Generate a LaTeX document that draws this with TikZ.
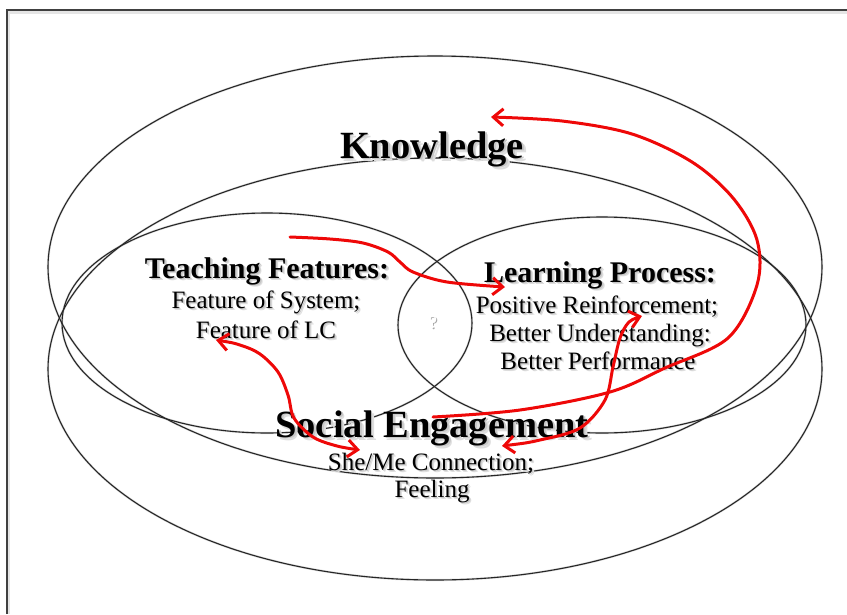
\documentclass[tikz,border=0pt]{standalone}
\usepackage{fontspec}
\setmainfont{Liberation Serif}
\usetikzlibrary{arrows.meta}
\definecolor{arrowred}{RGB}{238,8,8}
% text with a soft grey drop shadow (two light layers for a blurred look)
\newcommand\shadowed[1]{%
  \makebox[0pt][l]{\kern0.09em\raisebox{-0.09em}{\textcolor{black!13}{#1}}}%
  \makebox[0pt][l]{\kern0.05em\raisebox{-0.05em}{\textcolor{black!22}{#1}}}#1}
\begin{document}
\begin{tikzpicture}[x=1pt,y=-1pt,
  ring/.style={draw=black!85, line width=1.1pt},
  ringshade/.style={draw=black!14, line width=2.2pt},
  title/.style={anchor=base, inner sep=0pt, font=\fontsize{38.5}{40}\selectfont\bfseries},
  subtitle/.style={anchor=base, inner sep=0pt, font=\fontsize{30}{32}\selectfont\bfseries},
  item/.style={anchor=base, inner sep=0pt, font=\fontsize{25}{27}\selectfont},
  link/.style={draw=arrowred, line width=3pt, line cap=round, line join=round},
  barb/.tip={Straight Barb[length=10pt,width=17pt]}]
\useasboundingbox (0,0) rectangle (847,614);
% page frame
\draw[draw=black!10, line width=3pt] (8,614) -- (8,12) -- (847,12);
\draw[draw=black!75, line width=1.2pt] (7,614) -- (7,10) -- (847,10);

% centres of the four regions
\coordinate (knowC) at (435,267);
\coordinate (socC) at (435,369);
\coordinate (teachC) at (267,323);
\coordinate (learnC) at (602,325);

% soft shadows of the ellipses
\begin{scope}[shift={(1.2,1.8)}]
\draw[ringshade] (knowC) ellipse [x radius=387, y radius=211];
\draw[ringshade] (socC) ellipse [x radius=387, y radius=211];
\draw[ringshade] (teachC) ellipse [x radius=205, y radius=110];
\draw[ringshade] (learnC) ellipse [x radius=204, y radius=108];
\end{scope}
% the ellipses
\draw[ring] (knowC) ellipse [x radius=387, y radius=211];
\draw[ring] (socC) ellipse [x radius=387, y radius=211];
\draw[ring] (teachC) ellipse [x radius=205, y radius=110];
\draw[ring] (learnC) ellipse [x radius=204, y radius=108];

% labels
\node[title] (know) at (432,158) {\shadowed{Knowledge}};
\node[subtitle] (teach) at (267,278) {\shadowed{Teaching Features:}};
\node[item] (teach1) at (266,308) {\shadowed{Feature of System;}};
\node[item] (teach2) at (266,338) {\shadowed{Feature of LC}};
\node[subtitle] (learn) at (600,282) {\shadowed{Learning Process:}};
\node[item] (learn1) at (597,313) {\shadowed{Positive Reinforcement;}};
\node[item] (learn2) at (600,341) {\shadowed{Better Understanding:}};
\node[item] (learn3) at (598,369) {\shadowed{Better Performance}};
\node[title] (soc) at (432,437) {\shadowed{Social Engagement}};
\node[item] (soc1) at (431,470) {\shadowed{She/Me Connection;}};
\node[item] (soc2) at (432,497) {\shadowed{Feeling}};
\node[item, font=\fontsize{18}{20}\selectfont] (mid) at (433,328)
  {\makebox[0pt][l]{\kern1pt\raisebox{-1pt}{\textcolor{black!35}{?}}}\textcolor{white}{?}};

% connector ends
\coordinate (socOut) at (433,417);
\coordinate (knowIn) at (491,117);
\coordinate (teachOut) at (290,237);
\coordinate (learnIn) at (505,287);
\coordinate (lcEnd) at (216,340);
\coordinate (socInL) at (360,450);
\coordinate (socInR) at (502,446);
\coordinate (learnEnd) at (642,316);

% red connectors
\draw[link, -barb] plot[smooth, tension=0.55] coordinates {(socOut) (520,410) (610,392) (665,368) (728,338) (757,285) (757,240) (733,198) (692,162) (632,134) (562,121) (knowIn)};
\draw[link, -barb] plot[smooth, tension=0.55] coordinates {(teachOut) (330,239) (363,243) (388,252) (400,262) (413,272) (447,282) (learnIn)};
\draw[link, barb-barb] plot[smooth, tension=0.55] coordinates {(lcEnd) (240,345) (260,354) (278,372) (288,395) (294,418) (313,437) (337,446) (socInL)};
\draw[link, barb-barb] plot[smooth, tension=0.55] coordinates {(socInR) (540,440) (580,428) (605,400) (613,367) (620,338) (629,322) (learnEnd)};
\end{tikzpicture}
\end{document}
